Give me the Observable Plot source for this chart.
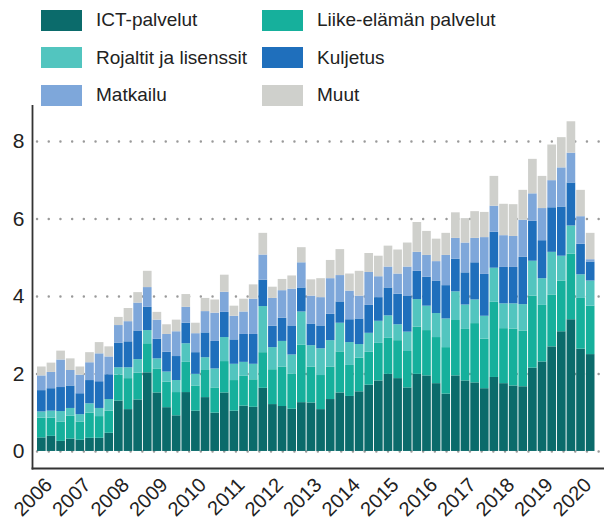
<!DOCTYPE html>
<html>
<head>
<meta charset="utf-8">
<script src="https://cdn.jsdelivr.net/npm/d3@7"></script>
<script src="https://cdn.jsdelivr.net/npm/@observablehq/plot@0.6"></script>
<style>
  html, body { margin: 0; padding: 0; background: #fff; }
  body { width: 604px; height: 529px; overflow: hidden; font-family: "Liberation Sans", Arial, Helvetica, sans-serif; }
  #legend { position: relative; width: 604px; height: 105px; }
  .item { position: absolute; display: flex; align-items: center; height: 22px; font-size: 19px; color: #222; white-space: nowrap; }
  .sw { width: 41px; height: 21px; margin-right: 14px; }
</style>
</head>
<body>
<div id="legend"></div>
<div id="chart"></div>
<script>
const years = [2006, 2007, 2008, 2009, 2010, 2011, 2012, 2013, 2014, 2015, 2016, 2017, 2018, 2019, 2020];
const seriesNames = ["ICT-palvelut", "Liike-elämän palvelut", "Rojaltit ja lisenssit", "Kuljetus", "Matkailu", "Muut"];
const seriesColors = ["#0b6b6b", "#16b09c", "#52c5bf", "#1f6fbc", "#7ea7da", "#cfd0cc"];
const yTicks = [0, 2, 4, 6, 8];

// quarterly values, 2006Q1 .. 2020Q2 (58 quarters)
const ict = [0.35,0.39,0.26,0.32, 0.29,0.34,0.34,0.47, 1.30,1.08,1.33,2.03, 1.51,1.13,0.92,1.52,
  1.04,1.39,0.99,1.51, 1.04,1.17,1.14,1.63, 1.21,1.16,1.09,1.26, 1.25,1.08,1.34,1.51,
  1.42,1.54,1.71,1.82, 1.99,1.88,1.64,1.99, 1.95,1.75,1.48,1.95, 1.82,1.77,1.62,1.91,
  1.75,1.69,1.67,2.15, 2.31,2.70,3.09,3.40, 2.64,2.50];
const liike = [0.51,0.47,0.50,0.59, 0.47,0.65,0.56,0.57, 0.67,0.80,0.69,0.75, 0.62,0.66,0.60,0.78,
  0.65,0.70,0.65,0.81, 0.79,0.77,0.71,0.92, 0.90,1.02,0.90,1.48, 0.93,0.88,0.84,1.06,
  0.80,0.87,0.85,0.97, 0.93,0.98,0.94,1.22, 1.17,1.19,1.20,1.43, 1.33,1.53,1.28,1.94,
  1.42,1.47,1.44,1.86, 1.46,1.34,1.31,1.69, 1.31,1.25];
const rojaltit = [0.16,0.18,0.27,0.20, 0.19,0.24,0.21,0.30, 0.19,0.28,0.35,0.34, 0.26,0.26,0.31,0.48,
  0.30,0.33,0.49,0.62, 0.42,0.36,0.40,1.19, 0.57,0.66,0.50,0.86, 0.55,0.69,0.68,0.74,
  0.59,0.35,0.49,0.57, 0.58,0.41,0.50,0.71, 0.63,0.62,0.74,0.74, 0.63,0.61,0.59,0.88,
  0.64,0.65,0.68,0.90, 0.69,1.10,0.64,0.73, 0.61,0.65];
const kuljetus = [0.55,0.58,0.62,0.58, 0.54,0.60,0.69,0.64, 0.63,0.67,0.74,0.60, 0.51,0.51,0.62,0.53,
  0.56,0.64,0.71,0.65, 0.63,0.72,0.77,0.68, 0.55,0.60,0.75,0.62, 0.56,0.59,0.68,0.55,
  0.59,0.66,0.72,0.61, 0.72,0.79,0.92,0.73, 0.75,0.84,0.86,0.84, 0.83,0.96,1.08,0.93,
  0.94,0.94,1.22,1.03, 0.98,1.15,1.27,1.11, 0.79,0.49];
const matkailu = [0.38,0.42,0.71,0.40, 0.48,0.46,0.72,0.46, 0.46,0.52,0.72,0.51, 0.49,0.46,0.64,0.41,
  0.49,0.55,0.73,0.52, 0.61,0.58,0.91,0.65, 0.72,0.71,0.95,0.65, 0.72,0.73,0.92,0.68,
  0.74,0.59,0.85,0.54, 0.54,0.52,0.76,0.49, 0.56,0.50,0.78,0.54, 0.77,0.63,0.95,0.67,
  0.82,0.80,0.96,0.71, 0.83,0.70,1.01,0.77, 0.71,0.06];
const muut = [0.23,0.24,0.23,0.30, 0.21,0.26,0.29,0.26, 0.21,0.34,0.27,0.42, 0.20,0.25,0.30,0.33,
  0.27,0.34,0.34,0.44, 0.26,0.33,0.37,0.56, 0.29,0.29,0.34,0.39, 0.42,0.49,0.47,0.67,
  0.44,0.64,0.49,0.53, 0.54,0.62,0.62,0.77, 0.62,0.58,0.57,0.66, 0.63,0.69,0.65,0.77,
  0.81,0.82,0.77,0.89, 0.83,0.92,0.78,0.81, 0.68,0.68];

const quarters = [];
for (const y of years) for (const q of [1, 2, 3, 4]) quarters.push(y + "Q" + q);
quarters.length = ict.length;
const yearTicks = years.map(y => y + "Q1");

const seriesValues = [ict, liike, rojaltit, kuljetus, matkailu, muut];
const data = [];
seriesNames.forEach((name, i) => {
  seriesValues[i].forEach((v, j) => data.push({q: quarters[j], series: name, value: v}));
});

// legend (HTML, above the plot)
const legend = document.getElementById("legend");
const order = [[0, 1], [2, 3], [4, 5]];
order.forEach((row, r) => {
  row.forEach((si, c) => {
    const el = document.createElement("div");
    el.className = "item";
    el.style.left = (c === 0 ? 41 : 262) + "px";
    el.style.top = (9 + r * 37.5) + "px";
    el.innerHTML = `<div class="sw" style="background:${seriesColors[si]}"></div><span>${seriesNames[si]}</span>`;
    legend.appendChild(el);
  });
});

const chart = Plot.plot({
  width: 604,
  height: 424,
  marginTop: 0,
  marginBottom: 61,
  marginLeft: 37,
  marginRight: 9.5,
  style: {fontFamily: "'Liberation Sans', Arial, Helvetica, sans-serif", color: "#222", background: "#fff"},
  x: {type: "band", domain: quarters, paddingInner: 0.1, paddingOuter: 0, label: null},
  y: {domain: [-0.44, 8.93], label: null},
  color: {domain: seriesNames, range: seriesColors},
  marks: [
    Plot.gridY(yTicks, {stroke: "#9a9a9a", strokeOpacity: 1, strokeWidth: 2.4, strokeDasharray: "0.1,11.6", strokeLinecap: "round", insetRight: -9}),
    Plot.barY(data, {x: "q", y: "value", fill: "series", order: seriesNames}),
    Plot.axisY(yTicks, {tickSize: 0, tickPadding: 13, fontSize: 21, label: null}),
    Plot.axisX(yearTicks, {tickSize: 0, tickFormat: d => d.slice(0, 4), tickRotate: -45, tickPadding: 13, dx: 7, fontSize: 20, label: null}),
    Plot.frame({anchor: "bottom", stroke: "#333", strokeWidth: 1.8, insetLeft: -5, insetRight: -10}),
    Plot.frame({anchor: "left", stroke: "#333", strokeWidth: 1.8, insetLeft: -5})
  ]
});
document.getElementById("chart").appendChild(chart);
</script>
</body>
</html>
